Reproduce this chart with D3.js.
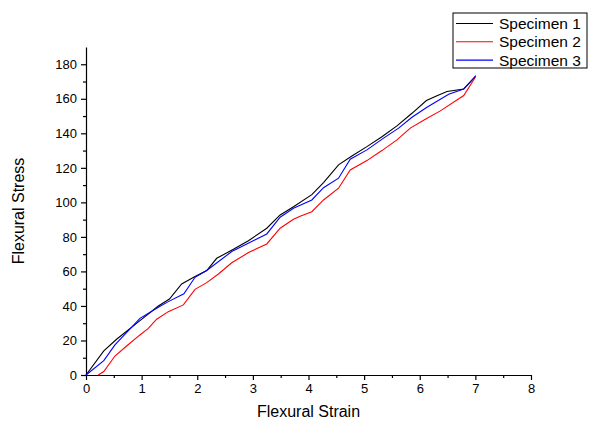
<!DOCTYPE html>
<html>
<head>
<meta charset="utf-8">
<script src="https://cdn.jsdelivr.net/npm/d3@7"></script>
<style>
  body { margin: 0; background: #fff; }
  svg { display: block; font-family: "Liberation Sans", Arial, sans-serif; }
  .axis path, .axis line { stroke: #000; stroke-width: 1.2; }
  .axis text { font-size: 13px; fill: #000; }
</style>
</head>
<body>
<div id="chart"></div>
<script>
// Specimen 1 (black)
var strain1 = [0, 0.32, 0.55, 0.97, 1.3, 1.5, 1.72, 1.96, 2.17, 2.35, 2.65, 2.92, 3.25, 3.49, 3.73, 4.06, 4.27, 4.54, 4.78, 5.05, 5.32, 5.59, 5.86, 6.12, 6.31, 6.49, 6.79, 7.0];
var stress1 = [0, 14, 20.7, 31.5, 40, 44, 52.7, 57, 60.5, 67.6, 72.8, 77.8, 85, 92.7, 97.5, 104.5, 111.5, 121.7, 126.9, 132.3, 138, 144.3, 151.6, 159, 161.7, 164.2, 165.7, 172.9];
// Specimen 2 (red)
var strain2 = [0.22, 0.32, 0.52, 0.73, 0.97, 1.12, 1.27, 1.48, 1.75, 1.96, 2.17, 2.38, 2.62, 2.92, 3.25, 3.49, 3.73, 3.85, 4.06, 4.27, 4.54, 4.75, 5.05, 5.32, 5.59, 5.83, 6.1, 6.37, 6.79, 7.0];
var stress2 = [0, 2, 11, 16.8, 23.2, 27, 32.3, 36.7, 40.6, 49.6, 53.5, 58.5, 65, 70.9, 75.9, 85, 90.2, 92, 94.6, 101.4, 108.2, 118.8, 124.2, 130, 136.2, 143, 148.2, 153, 161.9, 172.5];
// Specimen 3 (blue)
var strain3 = [0, 0.32, 0.52, 0.97, 1.3, 1.48, 1.76, 1.96, 2.17, 2.62, 3.25, 3.49, 3.73, 4.06, 4.27, 4.54, 4.75, 5.05, 5.35, 5.62, 5.86, 6.13, 6.52, 6.79, 7.01];
var stress3 = [0, 8.3, 17.4, 32.8, 39.2, 42.5, 47, 56.6, 60.5, 71.5, 81.7, 91.4, 96.6, 101.4, 108.5, 114, 125, 130.4, 137.2, 143, 149.3, 155.1, 162.6, 165.6, 173.4];

var seriesNames = ["Specimen 1", "Specimen 2", "Specimen 3"];
var seriesColors = ["#000000", "#ff0000", "#0000ff"];
var xTicks = [0, 1, 2, 3, 4, 5, 6, 7, 8];
var yTicks = [0, 20, 40, 60, 80, 100, 120, 140, 160, 180];

var W = 597, H = 422;
var margin = {top: 47, right: 66, bottom: 47, left: 86};
var width = W - margin.left - margin.right;
var height = H - margin.top - margin.bottom;

var svg = d3.select("#chart").append("svg")
    .attr("width", W)
    .attr("height", H)
    .append("g")
    .attr("transform", "translate(" + margin.left + "," + margin.top + ")");

var x = d3.scaleLinear().domain([0, 8]).range([0, width]);
var y = d3.scaleLinear().domain([0, 190]).range([height, 0]);

// minor ticks
svg.append("g")
    .attr("class", "axis")
    .attr("transform", "translate(0," + height + ")")
    .call(d3.axisBottom(x).tickValues(d3.range(0.5, 8, 1)).tickSize(3).tickFormat(""))
    .select(".domain").remove();
svg.append("g")
    .attr("class", "axis")
    .call(d3.axisLeft(y).tickValues(d3.range(10, 190, 20)).tickSize(3).tickFormat(""))
    .select(".domain").remove();

svg.append("g")
    .attr("class", "axis")
    .attr("transform", "translate(0," + height + ")")
    .call(d3.axisBottom(x).tickValues(xTicks).tickSize(5).tickPadding(4).tickSizeOuter(0));

svg.append("g")
    .attr("class", "axis")
    .call(d3.axisLeft(y).tickValues(yTicks).tickSize(5).tickPadding(4).tickSizeOuter(0));

svg.append("text")
    .attr("x", width / 2)
    .attr("y", height + 42)
    .attr("text-anchor", "middle")
    .style("font-size", "16px")
    .text("Flexural Strain");

svg.append("text")
    .attr("transform", "rotate(-90)")
    .attr("x", -height / 2)
    .attr("y", -62)
    .attr("text-anchor", "middle")
    .style("font-size", "16px")
    .text("Flexural Stress");

var series = [
    {strain: strain1, stress: stress1},
    {strain: strain2, stress: stress2},
    {strain: strain3, stress: stress3}
];

var line = d3.line()
    .x(function(d) { return x(d[0]); })
    .y(function(d) { return y(d[1]); });

series.forEach(function(s, i) {
    var pts = s.strain.map(function(v, j) { return [v, s.stress[j]]; });
    svg.append("path")
        .datum(pts)
        .attr("d", line)
        .attr("fill", "none")
        .attr("stroke", seriesColors[i])
        .attr("stroke-width", 1.1);
});

// legend
var legend = d3.select("svg").append("g").attr("transform", "translate(453,13)");
legend.append("rect")
    .attr("width", 134)
    .attr("height", 55)
    .attr("fill", "#fff")
    .attr("stroke", "#000")
    .attr("stroke-width", 1);
seriesNames.forEach(function(name, i) {
    var yy = 10.5 + i * 18.3;
    legend.append("line")
        .attr("x1", 3).attr("x2", 40)
        .attr("y1", yy).attr("y2", yy)
        .attr("stroke", seriesColors[i])
        .attr("stroke-width", 1.1);
    legend.append("text")
        .attr("x", 46)
        .attr("y", yy + 5.5)
        .style("font-size", "15.5px")
        .text(name);
});
</script>
</body>
</html>
